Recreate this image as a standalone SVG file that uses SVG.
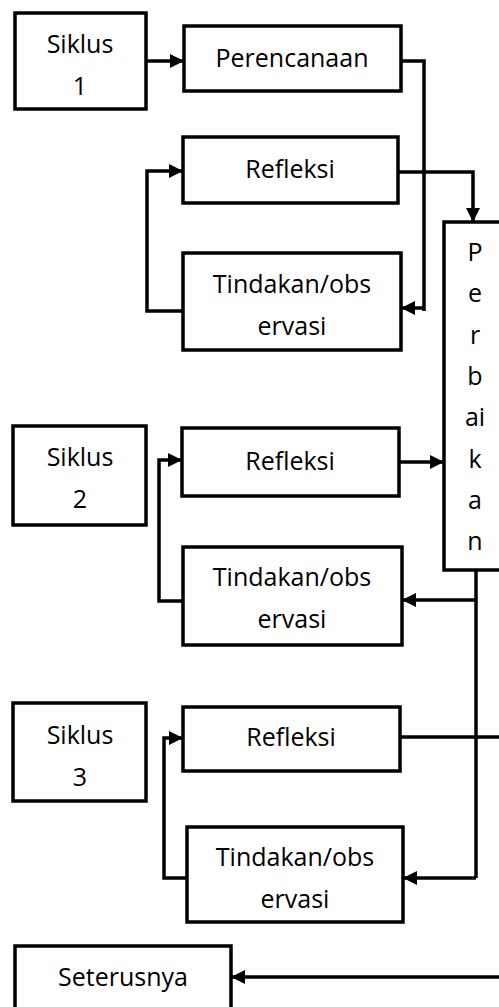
<svg xmlns="http://www.w3.org/2000/svg" width="499" height="1007" viewBox="0 0 499 1007">
<style>
.box{fill:#fff;stroke:#000;stroke-width:3.5}
.t{font-family:"Open Sans","DejaVu Sans",sans-serif;font-size:25px;fill:#000;text-anchor:middle}
.c{fill:none;stroke:#000;stroke-width:3.5}
</style>
<defs>
<marker id="ah" viewBox="0 0 14 14" refX="13" refY="7" markerWidth="14" markerHeight="14" markerUnits="userSpaceOnUse" orient="auto">
<path d="M0,0 L14,7 L0,14 Z" fill="#000"/>
</marker>
</defs>
<rect width="499" height="1007" fill="#fff"/>
<g id="connectors">
<path class="c" d="M146,61 H183" marker-end="url(#ah)"/>
<path class="c" d="M401,61 H424 V311"/>
<path class="c" d="M424,308 H402" marker-end="url(#ah)"/>
<path class="c" d="M398,172 H473 V221" marker-end="url(#ah)"/>
<path class="c" d="M183,311 H147 V171 H182" marker-end="url(#ah)"/>
<path class="c" d="M399,462 H443" marker-end="url(#ah)"/>
<path class="c" d="M183,601 H159 V460 H181" marker-end="url(#ah)"/>
<path class="c" d="M476,570 V878"/>
<path class="c" d="M476,600 H403" marker-end="url(#ah)"/>
<path class="c" d="M476,878 H404" marker-end="url(#ah)"/>
<path class="c" d="M400,737 H499"/>
<path class="c" d="M187,878 H164 V738 H182" marker-end="url(#ah)"/>
<path class="c" d="M499,977 H232" marker-end="url(#ah)"/>
</g>
<g id="siklus1"><rect class="box" x="15" y="13" width="131" height="96"/><text class="t" x="80" y="53">Siklus</text><text class="t" x="80" y="95">1</text></g>
<g id="perencanaan"><rect class="box" x="184" y="26" width="217" height="65"/><text class="t" x="292" y="67">Perencanaan</text></g>
<g id="refleksi1"><rect class="box" x="183" y="137" width="215" height="66"/><text class="t" x="290" y="178">Refleksi</text></g>
<g id="tindakan1"><rect class="box" x="183" y="253" width="218" height="97"/><text class="t" x="292" y="293">Tindakan/obs</text><text class="t" x="292" y="335">ervasi</text></g>
<g id="perbaikan"><rect class="box" x="444" y="222" width="70" height="348"/>
<text class="t" x="475" y="261">P</text><text class="t" x="475" y="302">e</text><text class="t" x="475" y="344">r</text><text class="t" x="475" y="385">b</text><text class="t" x="475" y="426">ai</text><text class="t" x="475" y="468">k</text><text class="t" x="475" y="509">a</text><text class="t" x="475" y="550">n</text></g>
<g id="siklus2"><rect class="box" x="13" y="426" width="133" height="99"/><text class="t" x="80" y="466">Siklus</text><text class="t" x="80" y="508">2</text></g>
<g id="refleksi2"><rect class="box" x="182" y="428" width="217" height="68"/><text class="t" x="290" y="470">Refleksi</text></g>
<g id="tindakan2"><rect class="box" x="183" y="547" width="219" height="98"/><text class="t" x="292" y="586">Tindakan/obs</text><text class="t" x="292" y="628">ervasi</text></g>
<g id="siklus3"><rect class="box" x="13" y="703" width="133" height="98"/><text class="t" x="80" y="744">Siklus</text><text class="t" x="80" y="786">3</text></g>
<g id="refleksi3"><rect class="box" x="183" y="707" width="217" height="64"/><text class="t" x="291" y="746">Refleksi</text></g>
<g id="tindakan3"><rect class="box" x="187" y="827" width="216" height="95"/><text class="t" x="295" y="866">Tindakan/obs</text><text class="t" x="295" y="908">ervasi</text></g>
<g id="seterusnya"><rect class="box" x="15" y="946" width="216" height="80"/><text class="t" x="123" y="986">Seterusnya</text></g>
</svg>
